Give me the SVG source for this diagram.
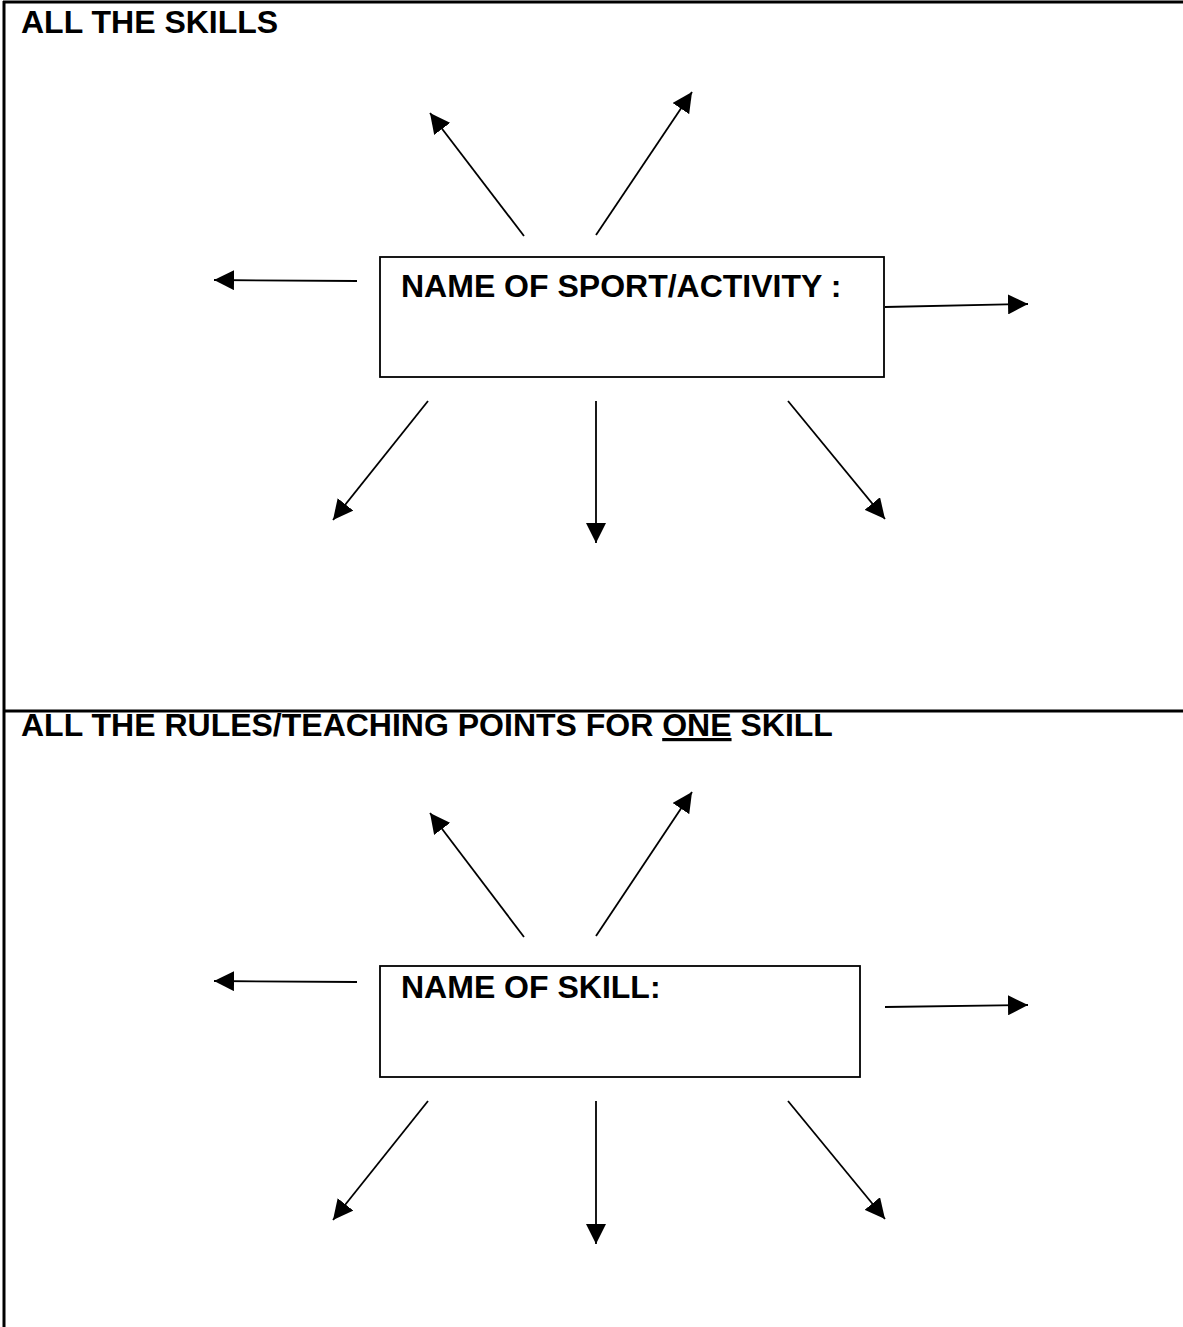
<svg xmlns="http://www.w3.org/2000/svg" width="1183" height="1327" viewBox="0 0 1183 1327">
<style>
.frame{stroke:#000;stroke-width:3;fill:none}
.box{stroke:#000;stroke-width:1.8;fill:#fff}
.t{font-family:"Liberation Sans",Arial,sans-serif;font-weight:bold;font-size:32px;fill:#000}
.c{stroke:#000;stroke-width:1.8;fill:none;marker-end:url(#ah)}
</style>
<defs>
<marker id="ah" markerUnits="userSpaceOnUse" markerWidth="20" markerHeight="20" viewBox="0 0 20 20" refX="20" refY="10" orient="auto">
<path d="M0,0 L20,10 L0,20 z" fill="#000"/>
</marker>
</defs>
<rect width="1183" height="1327" fill="#fff"/>
<g id="frame">
<line class="frame" x1="3" y1="2" x2="1183" y2="2"/>
<line class="frame" x1="4" y1="1" x2="4" y2="1327"/>
<line class="frame" x1="4" y1="711" x2="1183" y2="711"/>
</g>
<g id="title1"><text class="t" x="21" y="33">ALL THE SKILLS</text></g>
<g id="title2"><text class="t" x="21" y="736">ALL THE RULES/TEACHING POINTS FOR <tspan text-decoration="underline">ONE</tspan> SKILL</text></g>
<g id="node1">
<rect class="box" x="380" y="257" width="504" height="120"/>
<text class="t" x="401" y="297">NAME OF SPORT/ACTIVITY :</text>
</g>
<g id="node2">
<rect class="box" x="380" y="966" width="480" height="111"/>
<text class="t" x="401" y="998">NAME OF SKILL:</text>
</g>
<g id="connectors">
<line class="c" x1="524" y1="236" x2="430" y2="113"/>
<line class="c" x1="596" y1="235" x2="692" y2="92"/>
<line class="c" x1="357" y1="281" x2="214" y2="280"/>
<line class="c" x1="885" y1="307" x2="1028" y2="304"/>
<line class="c" x1="428" y1="401" x2="333" y2="520"/>
<line class="c" x1="596" y1="401" x2="596" y2="543"/>
<line class="c" x1="788" y1="401" x2="885" y2="519"/>
<line class="c" x1="524" y1="937" x2="430" y2="813"/>
<line class="c" x1="596" y1="936" x2="692" y2="792"/>
<line class="c" x1="357" y1="982" x2="214" y2="981"/>
<line class="c" x1="885" y1="1007" x2="1028" y2="1005"/>
<line class="c" x1="428" y1="1101" x2="333" y2="1220"/>
<line class="c" x1="596" y1="1101" x2="596" y2="1244"/>
<line class="c" x1="788" y1="1101" x2="885" y2="1219"/>
</g>
</svg>
